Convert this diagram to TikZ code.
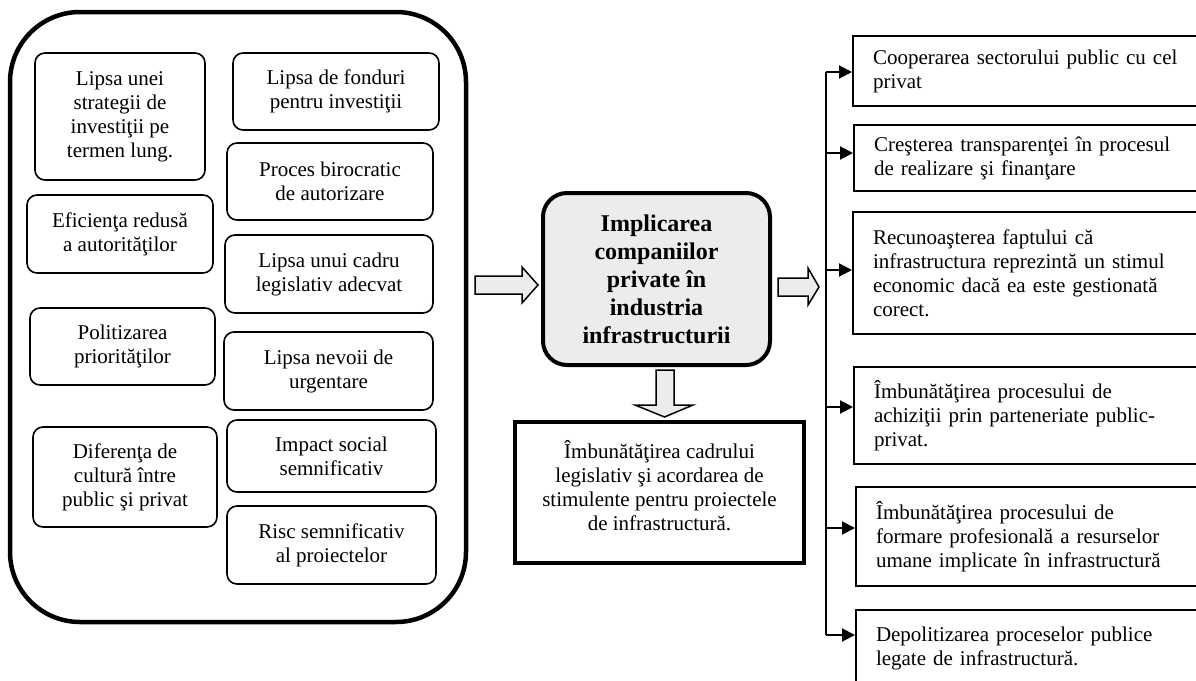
\documentclass[tikz,border=0pt]{standalone}
\usepackage{fontspec}
\setmainfont{Liberation Serif}
\usetikzlibrary{arrows.meta,calc}
\begin{document}
\begin{tikzpicture}[x=1pt,y=-1pt,
  txt/.style={font=\fontsize{21}{24}\selectfont},
  bigbox/.style={draw, line width=4.5pt, rounded corners=70pt, minimum width=456pt, minimum height=610pt},
  lbox/.style={txt, draw, line width=1.6pt, rounded corners=10pt, align=center, inner sep=1pt},
  hub/.style={draw, line width=4pt, rounded corners=24pt, fill=gray!15, align=center,
    font=\fontsize{24}{28}\selectfont\bfseries, minimum width=227pt, minimum height=172pt},
  outbox/.style={txt, draw, line width=4.5pt, align=center, minimum width=289pt, minimum height=141pt},
  rbox/.style={txt, draw, line width=2pt, anchor=west, text width=400pt, align=left, inner xsep=20pt, inner ysep=0pt},
  hollow/.style={draw, line width=1.5pt, fill=gray!15, line join=miter},
  spine/.style={line width=2pt},
  conn/.style={line width=2pt, -{Triangle[length=13pt,width=13pt]}}
]
\useasboundingbox (0,0) rectangle (1196,680);
\clip (0,0) rectangle (1196,680);

% big container
\node[bigbox] (big) at (238,317) {};

% left column
\node[lbox, minimum width=170pt, minimum height=127pt] (l1) at (120,116.5)
  {Lipsa unei\\strategii de\\investiţii pe\\termen lung.};
\node[lbox, minimum width=186pt, minimum height=78pt] (l2) at (120,234)
  {Eficienţa redusă\\a autorităţilor};
\node[lbox, minimum width=185pt, minimum height=77pt] (l3) at (122.5,346.5)
  {Politizarea\\priorităţilor};
\node[lbox, minimum width=184pt, minimum height=100pt] (l4) at (125,477)
  {Diferenţa de\\cultură între\\public şi privat};

% right column
\node[lbox, minimum width=206pt, minimum height=77pt] (r1) at (336,91.5)
  {Lipsa de fonduri\\pentru investiţii};
\node[lbox, minimum width=206pt, minimum height=77pt] (r2) at (330,181.5)
  {Proces birocratic\\de autorizare};
\node[lbox, minimum width=208pt, minimum height=78pt] (r3) at (329,274)
  {Lipsa unui cadru\\legislativ adecvat};
\node[lbox, minimum width=209pt, minimum height=78pt] (r4) at (328.5,371)
  {Lipsa nevoii de\\urgentare};
\node[lbox, minimum width=209pt, minimum height=72pt] (r5) at (331.5,456)
  {Impact social\\semnificativ};
\node[lbox, minimum width=209pt, minimum height=78pt] (r6) at (331.5,545)
  {Risc semnificativ\\al proiectelor};

% hub
\node[hub] (hub) at (656.5,279)
  {Implicarea\\companiilor\\private în\\industria\\infrastructurii};

% bottom outcome
\node[outbox] (out) at (659.5,492.5)
  {Îmbunătăţirea cadrului\\legislativ şi acordarea de\\stimulente pentru proiectele\\de infrastructură.\\[-10pt]\mbox{}};

% hollow arrows
\draw[hollow] (475,276) -- (522,276) -- (522,267) -- (538,285) -- (522,303) -- (522,294) -- (475,294) -- cycle;
\draw[hollow] (778,278) -- (808,278) -- (808,268) -- (819,287) -- (808,305) -- (808,296) -- (778,296) -- cycle;
\draw[hollow] (656,370) -- (674,370) -- (674,405) -- (693,405) -- (664.5,417) -- (635,405) -- (656,405) -- cycle;

% right outcome boxes
\node[rbox, minimum height=70pt] (b1) at (852,71)
  {Cooperarea sectorului public cu cel\\privat};
\node[rbox, minimum height=66pt] (b2) at (853,158)
  {Creşterea transparenţei în procesul\\de realizare şi finanţare};
\node[rbox, minimum height=122pt] (b3) at (852,273)
  {Recunoaşterea faptului că\\infrastructura reprezintă un stimul\\economic dacă ea este gestionată\\corect.};
\node[rbox, minimum height=97pt] (b4) at (853,415.5)
  {Îmbunătăţirea procesului de\\achiziţii prin parteneriate public-\\privat.};
\node[rbox, minimum height=99pt] (b5) at (855,536.5)
  {Îmbunătăţirea procesului de\\formare profesională a resurselor\\umane implicate în infrastructură};
\node[rbox, minimum height=76pt] (b6) at (855,648)
  {Depolitizarea proceselor publice\\legate de infrastructură.};

% spine and connectors
\coordinate (s1) at (826,72);
\coordinate (s2) at (826,153);
\coordinate (s3) at (826,270);
\coordinate (s4) at (826,407);
\coordinate (s5) at (826,528);
\coordinate (s6) at (826,635);
\draw[spine] (s1) -- (s6);
\foreach \i in {1,...,6} {
  \draw[conn] (s\i) -- (s\i -| b\i.west);
}
\end{tikzpicture}
\end{document}
